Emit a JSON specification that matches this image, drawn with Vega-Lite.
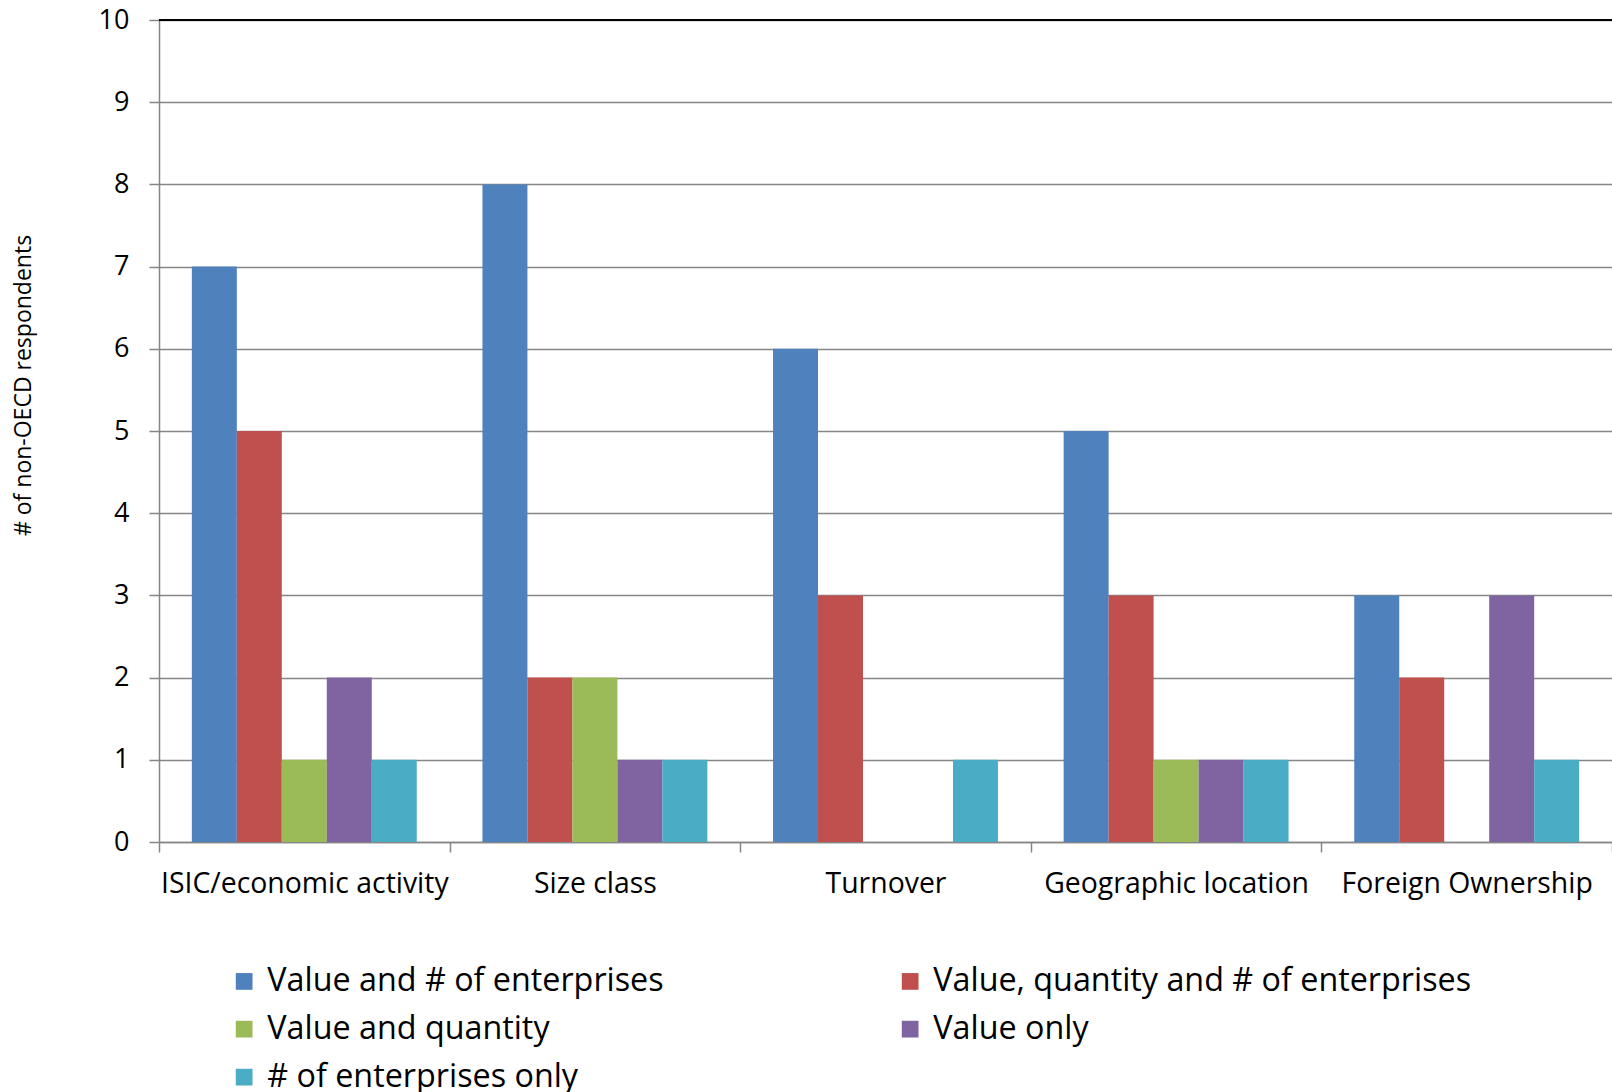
{
  "$schema": "https://vega.github.io/schema/vega-lite/v6.json",
  "width": 1453,
  "height": 822,
  "autosize": "none",
  "padding": {"left": 159, "top": 20, "right": 0, "bottom": 250},
  "background": "white",
  "config": {"font": "Open Sans", "view": {"stroke": null}},
  "data": {
    "values": [
      {"category": "ISIC/economic activity", "series": "Value and # of enterprises", "count": 7},
      {"category": "ISIC/economic activity", "series": "Value, quantity and # of enterprises", "count": 5},
      {"category": "ISIC/economic activity", "series": "Value and quantity", "count": 1},
      {"category": "ISIC/economic activity", "series": "Value only", "count": 2},
      {"category": "ISIC/economic activity", "series": "# of enterprises only", "count": 1},
      {"category": "Size class", "series": "Value and # of enterprises", "count": 8},
      {"category": "Size class", "series": "Value, quantity and # of enterprises", "count": 2},
      {"category": "Size class", "series": "Value and quantity", "count": 2},
      {"category": "Size class", "series": "Value only", "count": 1},
      {"category": "Size class", "series": "# of enterprises only", "count": 1},
      {"category": "Turnover", "series": "Value and # of enterprises", "count": 6},
      {"category": "Turnover", "series": "Value, quantity and # of enterprises", "count": 3},
      {"category": "Turnover", "series": "Value and quantity", "count": 0},
      {"category": "Turnover", "series": "Value only", "count": 0},
      {"category": "Turnover", "series": "# of enterprises only", "count": 1},
      {"category": "Geographic location", "series": "Value and # of enterprises", "count": 5},
      {"category": "Geographic location", "series": "Value, quantity and # of enterprises", "count": 3},
      {"category": "Geographic location", "series": "Value and quantity", "count": 1},
      {"category": "Geographic location", "series": "Value only", "count": 1},
      {"category": "Geographic location", "series": "# of enterprises only", "count": 1},
      {"category": "Foreign Ownership", "series": "Value and # of enterprises", "count": 3},
      {"category": "Foreign Ownership", "series": "Value, quantity and # of enterprises", "count": 2},
      {"category": "Foreign Ownership", "series": "Value and quantity", "count": 0},
      {"category": "Foreign Ownership", "series": "Value only", "count": 3},
      {"category": "Foreign Ownership", "series": "# of enterprises only", "count": 1}
    ]
  },
  "layer": [
    {
      "mark": {"type": "bar"},
      "encoding": {
        "x": {
          "field": "category",
          "type": "nominal",
          "sort": ["ISIC/economic activity", "Size class", "Turnover", "Geographic location", "Foreign Ownership"],
          "scale": {"paddingInner": 0, "paddingOuter": 0},
          "axis": {
            "title": null,
            "labelAngle": 0,
            "tickBand": "extent",
            "tickSize": 10,
            "tickColor": "#868686",
            "tickWidth": 1.5,
            "domainColor": "#868686",
            "domainWidth": 1.5,
            "labelFontSize": 28.4,
            "labelPadding": 18,
            "labelLimit": 500,
            "labelColor": "black",
            "grid": false
          }
        },
        "xOffset": {
          "field": "series",
          "type": "nominal",
          "sort": ["Value and # of enterprises", "Value, quantity and # of enterprises", "Value and quantity", "Value only", "# of enterprises only"],
          "scale": {"paddingInner": 0, "paddingOuter": 0.73}
        },
        "y": {
          "field": "count",
          "type": "quantitative",
          "scale": {"domain": [0, 10]},
          "axis": {
            "title": "# of non-OECD respondents",
            "titleFontSize": 23,
            "titleFontWeight": "normal",
            "titleColor": "black",
            "titleAngle": -90,
            "titleAlign": "center",
            "titleBaseline": "middle",
            "titleX": -136,
            "titleY": 365,
            "values": [0, 1, 2, 3, 4, 5, 6, 7, 8, 9, 10],
            "format": "d",
            "grid": true,
            "gridColor": "#868686",
            "gridWidth": 1.5,
            "tickSize": 10,
            "tickColor": "#868686",
            "tickWidth": 1.5,
            "domainColor": "#868686",
            "domainWidth": 1.5,
            "labelFontSize": 27,
            "labelPadding": 20,
            "labelColor": "black"
          }
        },
        "color": {
          "field": "series",
          "type": "nominal",
          "scale": {
            "domain": ["Value and # of enterprises", "Value and quantity", "# of enterprises only", "Value, quantity and # of enterprises", "Value only"],
            "range": ["#4F81BD", "#9BBB59", "#4BACC6", "#C0504D", "#8064A2"]
          },
          "legend": {
            "title": null,
            "orient": "none",
            "legendX": 69,
            "legendY": 945,
            "columns": 2,
            "padding": 0,
            "symbolType": "square",
            "symbolSize": 280,
            "symbolStrokeWidth": 0,
            "symbolOpacity": 1,
            "labelFontSize": 32.3,
            "labelColor": "black",
            "labelOffset": 7,
            "labelLimit": 800,
            "rowPadding": 15,
            "columnPadding": 230
          }
        }
      }
    },
    {
      "data": {"values": [{"count": 10}]},
      "mark": {"type": "rule", "color": "black", "strokeWidth": 2},
      "encoding": {"y": {"field": "count", "type": "quantitative"}}
    }
  ]
}
